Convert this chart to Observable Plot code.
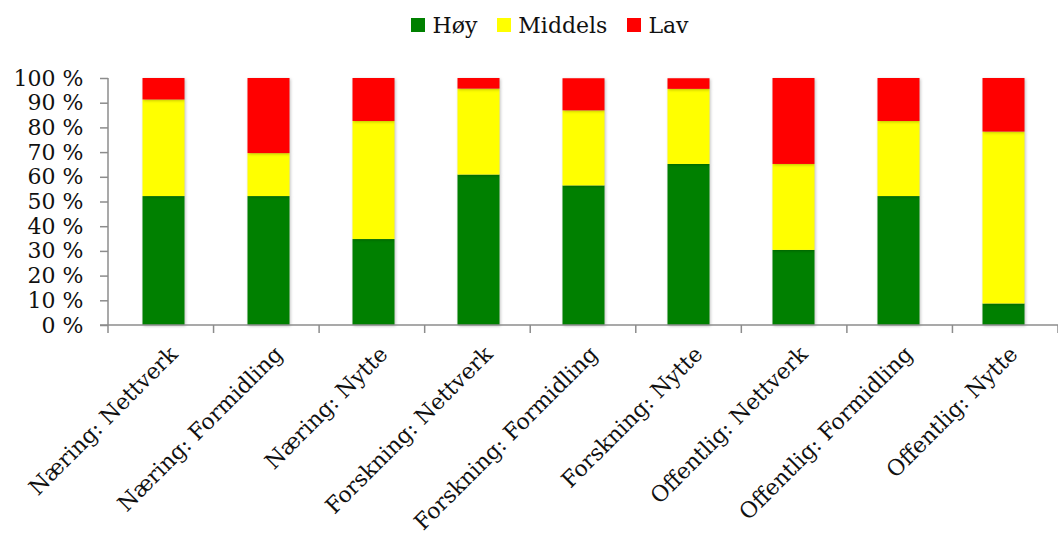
<!DOCTYPE html>
<html>
<head>
<meta charset="utf-8">
<script src="https://cdn.jsdelivr.net/npm/d3@7"></script>
<script src="https://cdn.jsdelivr.net/npm/@observablehq/plot@0.6"></script>
<style>
  html, body { margin: 0; padding: 0; background: #fff; }
  #legend { height: 50px; display: flex; align-items: center; justify-content: center; padding-left: 42px; box-sizing: border-box;
    font-family: "DejaVu Serif", serif; font-size: 22px; color: #111; }
  .item { display: flex; align-items: center; margin: 0 10px; }
  .sw { width: 14px; height: 14px; margin-right: 7px; }
  #chart svg { display: block; font-family: "DejaVu Serif", serif; }
  #chart g[aria-label="bar"] rect { filter: drop-shadow(1px 1px 1.5px rgba(0,0,0,0.25)); }
</style>
</head>
<body>
<div id="legend"></div>
<div id="chart"></div>
<script>
const categories = ["Næring: Nettverk", "Næring: Formidling", "Næring: Nytte",
  "Forskning: Nettverk", "Forskning: Formidling", "Forskning: Nytte",
  "Offentlig: Nettverk", "Offentlig: Formidling", "Offentlig: Nytte"];
const series = ["Høy", "Middels", "Lav"];
const colors = ["#008000", "#ffff00", "#ff0000"];
const hoy     = [52.2, 52.2, 34.8, 60.9, 56.5, 65.2, 30.4, 52.2, 8.7];
const middels = [39.1, 17.4, 47.8, 34.8, 30.4, 30.4, 34.8, 30.4, 69.6];
const lav     = [8.7, 30.4, 17.4, 4.3, 13.0, 4.3, 34.8, 17.4, 21.7];
const yTicks = [0, 10, 20, 30, 40, 50, 60, 70, 80, 90, 100];

const values = [hoy, middels, lav];
const data = [];
series.forEach((s, si) => categories.forEach((c, ci) => data.push({category: c, level: s, value: values[si][ci]})));

// legend
const legend = d3.select("#legend");
series.forEach((s, i) => {
  const it = legend.append("div").attr("class", "item");
  it.append("div").attr("class", "sw").style("background", colors[i]);
  it.append("span").text(s);
});

const axisMarks = (index, scales, vals, dims) => {
  const {x, y} = scales;
  const n = categories.length;
  const bw = (dims.width - dims.marginLeft - dims.marginRight) / n;
  const y0 = y(0);
  const g = d3.create("svg:g").attr("stroke", "#8c8c8c").attr("stroke-width", 1.5);
  const left = dims.marginLeft;
  for (let i = 0; i <= n; i++) {
    const xx = left + i * bw;
    g.append("line").attr("x1", xx).attr("x2", xx).attr("y1", y0).attr("y2", y0 + 8);
  }
  g.append("line").attr("x1", left).attr("x2", left).attr("y1", y(100)).attr("y2", y0);
  g.append("line").attr("x1", left - 8).attr("x2", dims.width - dims.marginRight).attr("y1", y0).attr("y2", y0);
  return g.node();
};

const chart = Plot.plot({
  width: 1058,
  height: 485,
  marginTop: 28,
  marginBottom: 210,
  marginLeft: 108,
  marginRight: 0,
  style: {fontFamily: "DejaVu Serif, serif", color: "#111"},
  x: {domain: categories, padding: 0},
  y: {domain: [0, 100]},
  color: {domain: series, range: colors},
  marks: [
    Plot.barY(data, {x: "category", y: "value", fill: "level", insetLeft: 31.5, insetRight: 31.5, order: null}),
    Plot.axisY({ticks: yTicks, tickFormat: d => `${d} %`, tickSize: 8, tickPadding: 17, fontSize: 22, stroke: "#8c8c8c", strokeWidth: 1.5, label: null}),
    Plot.axisX({tickRotate: -45, tickSize: 0, tickPadding: 25, dx: 10, fontSize: 22, label: null}),
    axisMarks
  ]
});
document.getElementById("chart").appendChild(chart);
</script>
</body>
</html>
